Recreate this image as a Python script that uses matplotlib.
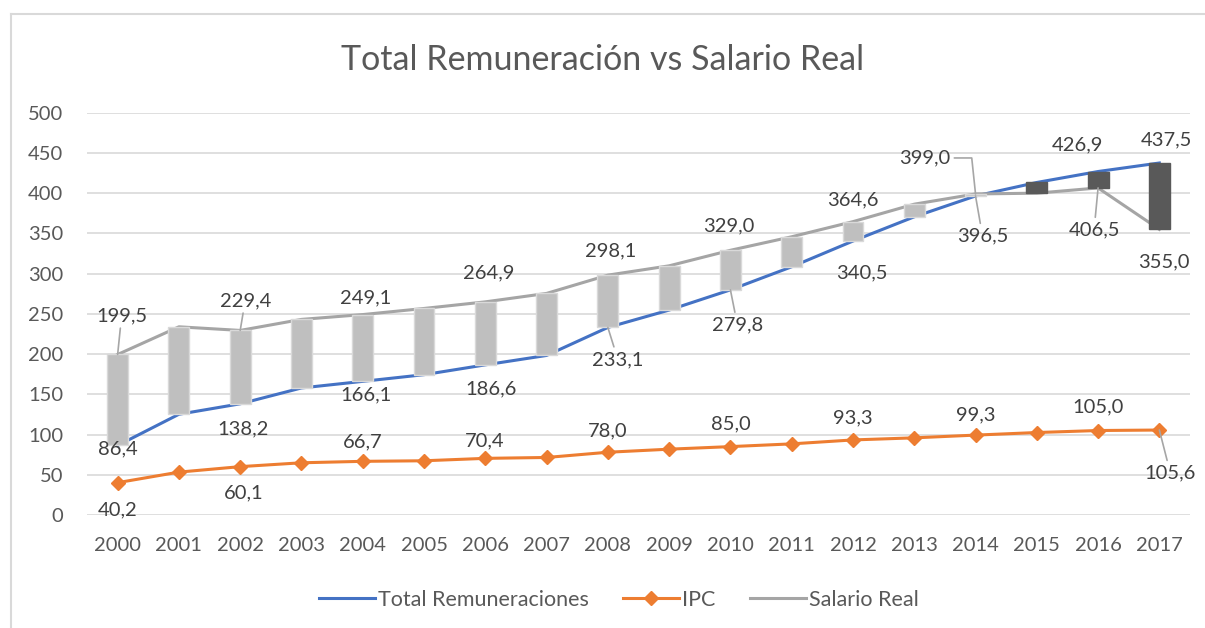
import matplotlib.pyplot as plt
from matplotlib.lines import Line2D

# datos
years = [str(y) for y in range(2000, 2018)]
total_rem = [86.4, 125.2, 138.2, 157.9, 166.1, 174.4, 186.6, 198.3, 233.1,
             254.7, 279.8, 308.5, 340.5, 370.6, 396.5, 413.3, 426.9, 437.5]
ipc = [40.2, 53.3, 60.1, 64.9, 66.7, 67.4, 70.4, 71.5, 78.0,
       81.8, 85.0, 88.4, 93.3, 95.9, 99.3, 102.5, 105.0, 105.6]
salario = [199.5, 233.9, 229.4, 243.1, 249.1, 256.7, 264.9, 275.4, 298.1,
           309.7, 329.0, 345.8, 364.6, 386.3, 399.0, 400.0, 406.5, 355.0]

# etiquetas visibles: (indice, dx px, dy px, linea guia)
lab_total = [(0, 0, -3, False), (2, 3, -25, False), (4, 3, -14, False), (6, 6, -24, False),
             (8, 10, -32, True), (10, 7, -35, True), (12, 9, -32, False), (14, 7, -40, True),
             (16, -21, 27, False), (17, 7, 23, False)]
lab_ipc = [(0, 0, -27, False), (2, 3, -26, False), (4, 0, 19, False), (6, -1, 17, False),
           (8, 0, 21, False), (10, 0, 23, False), (12, 0, 22, False), (14, 0, 20, False),
           (16, 0, 24, False), (17, 11, -43, True)]
lab_sal = [(0, 4, 39, True), (2, 5, 30, True), (4, 3, 17, False), (6, 3, 29, False),
           (8, 3, 24, False), (10, -2, 24, False), (12, 0, 22, False), (14, -51, 36, True),
           (16, -4, -42, True), (17, 5, -33, False)]

FONT = 'Lato'
plt.rcParams['font.family'] = FONT

W, H = 1205, 628
fig = plt.figure(figsize=(W / 100, H / 100), dpi=100)
ax = fig.add_axes([87 / W, 1 - 515 / H, (1190 - 87) / W, (515 - 112.7) / H])

x = list(range(len(years)))

ax.plot(x, total_rem, color='#4472C4', lw=2.2, zorder=3, label='Total Remuneraciones')
ax.plot(x, ipc, color='#ED7D31', lw=2.2, marker='D', markersize=7.5, zorder=3, label='IPC')
ax.plot(x, salario, color='#A5A5A5', lw=2.2, zorder=3, label='Salario Real')

# barras arriba/abajo
for i in x:
    diff = salario[i] - total_rem[i]
    if diff >= 0:
        fc, ec = '#BFBFBF', '#D9D9D9'
    else:
        fc, ec = '#595959', '#595959'
    ax.bar(i, diff, bottom=total_rem[i], width=0.34, color=fc, edgecolor=ec,
           linewidth=1, zorder=4)


def fmt(v):
    return f'{v:.1f}'.replace('.', ',')


def put_labels(series, labels):
    for i, dx, dy, guide in labels:
        props = None
        if guide:
            props = dict(arrowstyle='-', color='#A6A6A6', lw=1.2, shrinkA=1, shrinkB=0)
        if i == 14 and series is salario:
            props = dict(arrowstyle='-', color='#A6A6A6', lw=1.2, shrinkA=1, shrinkB=0,
                         connectionstyle='angle,angleA=0,angleB=96,rad=0')
        ax.annotate(fmt(series[i]), (i, series[i]), xytext=(dx, dy),
                    textcoords='offset pixels', ha='center', va='center',
                    fontsize=14.5, color='#404040', zorder=6, arrowprops=props)


put_labels(total_rem, lab_total)
put_labels(ipc, lab_ipc)
put_labels(salario, lab_sal)

ax.set_xlim(-0.5, len(years) - 0.5)
ax.set_ylim(0, 500)
ax.set_yticks(range(0, 501, 50))
ax.set_xticks(x)
ax.set_xticklabels(years)
ax.grid(axis='y', color='#D9D9D9', lw=1.2)
ax.set_axisbelow(True)
for s in ax.spines.values():
    s.set_visible(False)
ax.tick_params(length=0, labelsize=14.5, labelcolor='#595959')
ax.tick_params(axis='y', pad=17)
ax.tick_params(axis='x', pad=16)

fig.text(0.5, 1 - 60 / H, 'Total Remuneración vs Salario Real', ha='center', va='center',
         fontsize=24.5, color='#595959')

handles = [Line2D([], [], color='#4472C4', lw=2.2),
           Line2D([], [], color='#ED7D31', lw=2.2, marker='D', markersize=7.5),
           Line2D([], [], color='#A5A5A5', lw=2.2)]
fig.legend(handles, ['Total Remuneraciones', 'IPC', 'Salario Real'], loc='center',
           bbox_to_anchor=(619 / W, 1 - 600 / H), ncol=3, frameon=False, fontsize=15.5,
           labelcolor='#595959', handlelength=2.6, handletextpad=0.15, columnspacing=1.6)

# marco del grafico
fig.add_artist(Line2D([11 / W, 11 / W], [0, 1 - 14 / H], color='#D9D9D9', lw=1.5))
fig.add_artist(Line2D([11 / W, 1], [1 - 14 / H, 1 - 14 / H], color='#D9D9D9', lw=1.5))

fig.savefig('out.png', dpi=100)
